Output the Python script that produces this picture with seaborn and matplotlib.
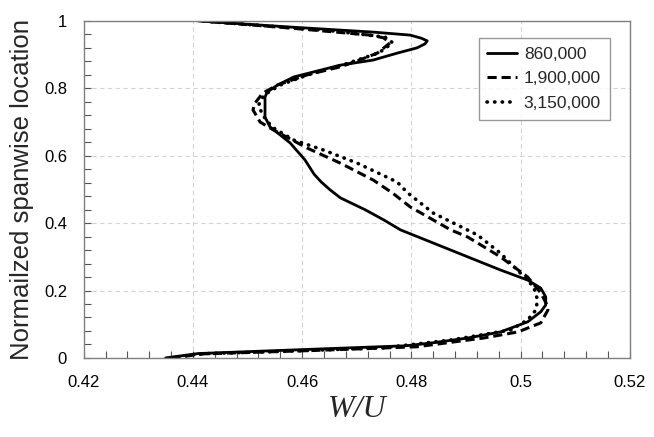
import numpy as np
import pandas as pd
import matplotlib
matplotlib.use('Agg')
import matplotlib.pyplot as plt
import seaborn as sns
from matplotlib.ticker import MultipleLocator

# spanwise profiles of W/U for three Reynolds numbers
y_860k = [0.0, 0.013, 0.024, 0.036, 0.045, 0.059, 0.077, 0.107, 0.137, 0.157, 0.181, 0.207,
          0.231, 0.261, 0.30, 0.341, 0.38, 0.41, 0.44, 0.475, 0.499, 0.522, 0.545, 0.588, 0.638,
          0.686, 0.715, 0.774, 0.789, 0.81, 0.834, 0.869, 0.884, 0.905, 0.92, 0.932, 0.941, 0.949,
          0.958, 0.967, 0.982, 1.0]
w_860k = [0.435, 0.441, 0.459, 0.479, 0.484, 0.4903, 0.4963, 0.5013, 0.5037, 0.5046, 0.5046, 0.5037,
          0.5013, 0.4963, 0.4903, 0.484, 0.478, 0.4749, 0.4715, 0.467, 0.4651, 0.4635, 0.4622, 0.4605,
          0.4578, 0.4541, 0.4532, 0.4532, 0.4536, 0.4555, 0.4585, 0.467, 0.473, 0.4775, 0.481, 0.4825,
          0.4829, 0.4818, 0.4798, 0.473, 0.4578, 0.441]

y_1900k = [0.0, 0.012, 0.022, 0.033, 0.059, 0.077, 0.104, 0.142, 0.152, 0.193, 0.24, 0.30, 0.359,
           0.38, 0.448, 0.49, 0.528, 0.578, 0.623, 0.677, 0.70, 0.736, 0.757, 0.786, 0.81, 0.84,
           0.864, 0.884, 0.905, 0.935, 0.95, 0.958, 0.979, 1.0]
w_1900k = [0.436, 0.442, 0.462, 0.481, 0.4932, 0.4995, 0.5037, 0.505, 0.505, 0.5037, 0.5013, 0.4963,
           0.4903, 0.4872, 0.4798, 0.4765, 0.473, 0.467, 0.4609, 0.4547, 0.4523, 0.451, 0.4514,
           0.4528, 0.4555, 0.4609, 0.467, 0.4705, 0.4738, 0.4761, 0.4749, 0.4725, 0.4578, 0.4415]

y_3150k = [0.0, 0.012, 0.022, 0.03, 0.053, 0.083, 0.113, 0.142, 0.172, 0.211, 0.261, 0.311, 0.365,
           0.43, 0.49, 0.522, 0.578, 0.617, 0.647, 0.685, 0.72, 0.75, 0.78, 0.81, 0.84, 0.87, 0.905,
           0.935, 0.952, 0.97, 1.0]
w_3150k = [0.436, 0.441, 0.461, 0.4749, 0.4872, 0.4982, 0.5013, 0.5028, 0.5031, 0.5024, 0.4994, 0.4963,
           0.4921, 0.484, 0.4793, 0.4774, 0.4701, 0.4639, 0.4584, 0.4545, 0.4528, 0.452, 0.453, 0.456,
           0.461, 0.4675, 0.474, 0.4766, 0.4752, 0.466, 0.4416]

labels = ['860,000', '1,900,000', '3,150,000']

sns.set_style('white')
plt.rcParams['font.family'] = ['Liberation Sans', 'DejaVu Sans']

fig = plt.figure(figsize=(6.54, 4.37), dpi=100)
ax = fig.add_axes([0.128, 0.181, 0.835, 0.771])

df1 = pd.DataFrame({'W': w_860k, 'y': y_860k})
df2 = pd.DataFrame({'W': w_1900k, 'y': y_1900k})
df3 = pd.DataFrame({'W': w_3150k, 'y': y_3150k})

sns.lineplot(data=df1, x='W', y='y', sort=False, estimator=None, color='black', lw=2.0,
             label=labels[0], ax=ax)
sns.lineplot(data=df2, x='W', y='y', sort=False, estimator=None, color='black', lw=2.2,
             linestyle=(0, (3.0, 1.6)), label=labels[1], ax=ax)
sns.lineplot(data=df3, x='W', y='y', sort=False, estimator=None, color='black', lw=2.6,
             linestyle=(0, (0.1, 2.0)), dash_capstyle='round', label=labels[2], ax=ax)

ax.set_xlim(0.42, 0.52)
ax.set_ylim(0, 1)
ax.xaxis.set_minor_locator(MultipleLocator(0.004))
ax.yaxis.set_minor_locator(MultipleLocator(0.04))
ax.set_xticks([0.42, 0.44, 0.46, 0.48, 0.5, 0.52])
ax.set_xticklabels(['0.42', '0.44', '0.46', '0.48', '0.5', '0.52'])
ax.set_yticks([0, 0.2, 0.4, 0.6, 0.8, 1.0])
ax.set_yticklabels(['0', '0.2', '0.4', '0.6', '0.8', '1'])

ax.grid(True, which='major', color='#d4d4d4', linestyle=(0, (4, 3)), lw=0.8)
ax.tick_params(which='both', direction='in', color='#555555', labelsize=12, labelcolor='black',
               bottom=True, left=True, top=False, right=False)
ax.tick_params(which='major', length=5, width=0.8, pad=12)
ax.tick_params(which='minor', length=5, width=0.8)
for s in ax.spines.values():
    s.set_color('#808080')
    s.set_linewidth(1.0)

ax.set_xlabel('W/U', fontsize=23, fontfamily='Liberation Serif', style='italic', labelpad=4)
ax.set_ylabel('Normailzed spanwise location', fontsize=18.5, labelpad=7)

leg = ax.legend(loc='upper right', bbox_to_anchor=(0.963, 0.95), borderaxespad=0, fontsize=12.5,
                frameon=True, fancybox=False, edgecolor='#808080', handlelength=1.7,
                handletextpad=0.4, borderpad=0.5, labelspacing=0.55)
leg.get_frame().set_linewidth(1.0)

fig.savefig('out.png', dpi=100)
